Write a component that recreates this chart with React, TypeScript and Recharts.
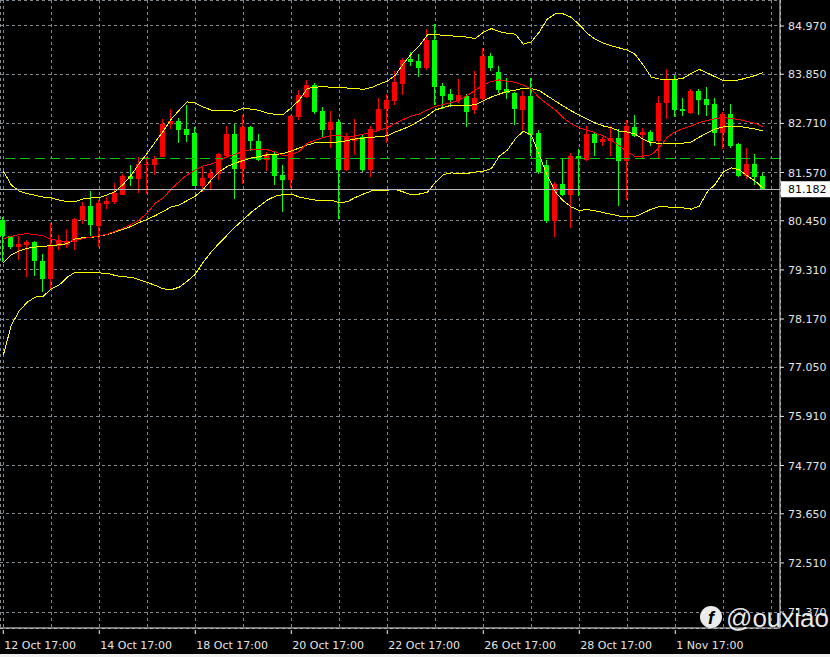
import React from 'react';
import {
  ComposedChart, Bar, Line, XAxis, YAxis, CartesianGrid, ReferenceLine,
} from 'recharts';

// H4 candles, 12 Oct -> 2 Nov. Red = up candle, green = down candle.
const dateLabels = [
  '12 Oct 17:00', '14 Oct 17:00', '18 Oct 17:00', '20 Oct 17:00',
  '22 Oct 17:00', '26 Oct 17:00', '28 Oct 17:00', '1 Nov 17:00',
];

const priceTicks = [84.97, 83.85, 82.71, 81.57, 80.45, 79.31, 78.17, 77.05, 75.91, 74.77, 73.65, 72.51, 71.37];

const opens = [
  80.47, 80.10, 79.85, 79.89, 79.96, 79.52, 79.10, 79.87, 79.89, 79.96, 80.47, 80.80,
  80.34, 80.84, 80.88, 81.05, 81.50, 81.42, 81.75, 81.74, 81.94, 82.69, 82.76, 82.58,
  82.49, 81.26, 81.45, 81.54, 81.96, 82.46, 81.65, 82.62, 82.30, 81.87, 82.00, 81.51,
  81.40, 82.86, 83.31, 83.60, 83.00, 82.56, 82.74, 81.63, 82.30, 82.40, 81.63, 82.56,
  83.04, 83.23, 83.62, 84.20, 84.16, 83.99, 84.65, 83.58, 83.39, 83.25, 83.35, 83.00,
  83.28, 84.28, 83.90, 83.51, 83.41, 83.02, 83.35, 82.48, 81.74, 80.44, 81.30, 81.05,
  81.96, 81.86, 82.46, 82.26, 82.32, 82.38, 81.84, 82.62, 82.44, 82.52, 82.31, 83.18,
  83.72, 83.04, 82.96, 83.47, 83.28, 83.16, 82.48, 82.93, 82.23, 81.49, 81.77, 81.49,
];
const highs = [
  80.54, 80.10, 80.10, 80.00, 79.98, 79.68, 80.40, 80.12, 80.26, 80.52, 80.88, 81.15,
  80.93, 81.01, 81.32, 81.54, 81.74, 81.94, 81.94, 81.95, 82.80, 83.04, 82.83, 83.13,
  82.63, 81.70, 81.64, 82.03, 82.65, 82.70, 82.90, 82.66, 82.46, 82.05, 82.05, 81.74,
  82.90, 83.48, 83.72, 83.65, 83.08, 83.00, 82.82, 82.48, 82.81, 82.46, 82.65, 83.30,
  83.39, 83.93, 84.22, 84.37, 84.32, 84.90, 85.02, 83.65, 83.51, 83.74, 83.39, 83.93,
  84.45, 84.35, 84.04, 83.76, 83.44, 83.46, 83.76, 82.56, 81.86, 81.35, 81.90, 82.02,
  82.11, 82.66, 82.51, 82.39, 82.66, 82.58, 82.79, 82.90, 82.60, 82.56, 83.35, 83.97,
  83.83, 83.31, 83.50, 83.51, 83.56, 83.29, 82.97, 83.16, 82.25, 82.15, 82.00, 81.55,
];
const lows = [
  79.50, 79.79, 79.54, 79.15, 79.17, 78.80, 78.88, 79.77, 79.83, 79.77, 80.37, 80.10,
  79.85, 80.72, 80.84, 81.05, 81.26, 81.10, 81.08, 81.52, 81.91, 82.57, 82.26, 82.28,
  81.25, 81.12, 81.16, 81.41, 81.95, 80.97, 81.30, 82.08, 81.84, 81.61, 81.28, 80.64,
  81.20, 82.79, 83.30, 82.94, 82.39, 82.14, 80.51, 81.60, 81.98, 81.58, 81.47, 82.53,
  82.26, 83.14, 83.37, 84.04, 83.79, 83.95, 83.14, 83.04, 83.10, 83.19, 82.63, 82.93,
  83.25, 83.93, 83.42, 83.28, 82.67, 82.56, 81.94, 81.55, 80.39, 80.08, 81.01, 80.27,
  81.01, 81.84, 81.96, 82.17, 81.96, 80.80, 80.93, 82.39, 81.90, 82.18, 81.90, 82.81,
  82.85, 82.89, 82.92, 82.90, 82.89, 82.18, 82.11, 82.15, 81.45, 81.44, 81.28, 81.15,
];
const closes = [
  80.10, 79.85, 79.91, 79.96, 79.52, 79.10, 79.89, 80.00, 79.99, 80.49, 80.80, 80.35,
  80.87, 80.92, 81.09, 81.50, 81.42, 81.77, 81.77, 81.88, 82.70, 82.76, 82.56, 82.44,
  81.26, 81.44, 81.56, 82.00, 82.46, 81.65, 82.62, 82.30, 81.86, 82.00, 81.50, 81.40,
  82.88, 83.37, 83.60, 82.97, 82.56, 82.74, 81.63, 82.42, 82.38, 81.63, 82.58, 83.04,
  83.25, 83.68, 84.18, 84.13, 83.99, 84.65, 83.56, 83.35, 83.25, 83.36, 82.98, 83.29,
  84.28, 83.99, 83.48, 83.41, 83.04, 83.35, 82.44, 81.57, 80.44, 81.30, 81.05, 81.96,
  81.90, 82.46, 82.26, 82.34, 82.38, 81.84, 82.65, 82.42, 82.52, 82.31, 83.19, 83.72,
  83.02, 83.00, 83.47, 83.25, 83.14, 82.48, 82.93, 82.18, 81.49, 81.77, 81.47, 81.182,
];

// Bollinger bands (yellow) and moving average (red)
const upperBand = [
  81.60, 81.28, 81.14, 81.08, 81.04, 81.00, 80.98, 80.93, 80.89, 80.89, 80.96, 80.98,
  80.99, 81.05, 81.13, 81.30, 81.51, 81.78, 82.02, 82.28, 82.53, 82.81, 83.02, 83.21,
  83.18, 83.09, 83.02, 83.02, 83.02, 82.99, 83.07, 83.04, 83.01, 82.95, 82.92, 82.92,
  83.07, 83.25, 83.52, 83.55, 83.56, 83.55, 83.54, 83.53, 83.52, 83.50, 83.54, 83.62,
  83.69, 83.83, 84.09, 84.32, 84.51, 84.76, 84.78, 84.75, 84.74, 84.73, 84.71, 84.68,
  84.82, 84.91, 84.84, 84.80, 84.78, 84.55, 84.60, 84.83, 85.13, 85.25, 85.25, 85.17,
  85.00, 84.80, 84.66, 84.57, 84.51, 84.46, 84.41, 84.31, 84.06, 83.78, 83.74, 83.72,
  83.73, 83.76, 83.87, 83.96, 83.88, 83.79, 83.70, 83.70, 83.72, 83.77, 83.82, 83.89,
];
const middleBand = [
  79.47, 79.66, 79.75, 79.81, 79.84, 79.85, 79.88, 79.89, 79.92, 80.03, 80.06, 80.06,
  80.10, 80.13, 80.19, 80.25, 80.32, 80.41, 80.48, 80.57, 80.67, 80.77, 80.82, 80.92,
  81.02, 81.18, 81.40, 81.59, 81.71, 81.79, 81.85, 81.91, 81.94, 81.98, 81.99, 82.01,
  82.07, 82.14, 82.21, 82.26, 82.26, 82.26, 82.28, 82.31, 82.35, 82.37, 82.38, 82.41,
  82.42, 82.51, 82.58, 82.66, 82.77, 82.88, 83.02, 83.08, 83.13, 83.13, 83.13, 83.14,
  83.23, 83.32, 83.39, 83.45, 83.48, 83.53, 83.52, 83.47, 83.35, 83.23, 83.11, 83.00,
  82.90, 82.81, 82.72, 82.65, 82.61, 82.53, 82.51, 82.46, 82.34, 82.26, 82.25, 82.25,
  82.25, 82.25, 82.28, 82.39, 82.49, 82.58, 82.63, 82.65, 82.64, 82.61, 82.58, 82.53,
];
const lowerBand = [
  77.33, 78.03, 78.36, 78.56, 78.68, 78.70, 78.87, 78.96, 79.14, 79.26, 79.26, 79.25,
  79.24, 79.23, 79.18, 79.15, 79.14, 79.08, 79.02, 78.95, 78.87, 78.85, 78.91, 79.05,
  79.21, 79.49, 79.73, 79.93, 80.12, 80.31, 80.47, 80.65, 80.79, 80.93, 81.02, 81.06,
  81.07, 81.00, 80.96, 80.93, 80.93, 80.93, 80.87, 80.89, 80.99, 81.07, 81.14, 81.16,
  81.16, 81.18, 81.12, 81.05, 81.07, 81.11, 81.34, 81.52, 81.56, 81.55, 81.55, 81.58,
  81.60, 81.66, 81.95, 82.09, 82.35, 82.53, 82.44, 81.98, 81.49, 81.12, 80.91, 80.77,
  80.69, 80.71, 80.68, 80.64, 80.60, 80.56, 80.55, 80.55, 80.63, 80.72, 80.78, 80.77,
  80.76, 80.75, 80.72, 80.79, 81.12, 81.30, 81.58, 81.68, 81.63, 81.49, 81.37, 81.20,
];
const movingAvg = [
  80.03, 80.09, 80.13, 80.15, 80.13, 80.10, 80.02, 79.98, 79.96, 80.00, 80.04, 80.07,
  80.10, 80.14, 80.21, 80.28, 80.36, 80.47, 80.63, 80.86, 80.98, 81.19, 81.36, 81.52,
  81.63, 81.72, 81.77, 81.84, 81.94, 81.99, 82.07, 82.10, 82.10, 82.10, 82.05, 81.96,
  81.98, 82.06, 82.25, 82.32, 82.38, 82.43, 82.42, 82.40, 82.42, 82.46, 82.50, 82.55,
  82.61, 82.71, 82.80, 82.88, 82.93, 83.02, 83.10, 83.15, 83.19, 83.25, 83.36, 83.48,
  83.61, 83.68, 83.72, 83.69, 83.66, 83.60, 83.51, 83.30, 83.16, 83.02, 82.84, 82.70,
  82.61, 82.55, 82.49, 82.42, 82.32, 82.19, 82.05, 81.94, 81.95, 81.98, 82.15, 82.39,
  82.52, 82.59, 82.65, 82.73, 82.78, 82.82, 82.85, 82.82, 82.80, 82.75, 82.71, 82.63,
];

const bidPrice = 81.182;
const levelPrice = 81.9;

const data = opens.map((open, i) => ({
  i,
  open,
  high: highs[i],
  low: lows[i],
  close: closes[i],
  range: [lows[i], highs[i]],
  upper: upperBand[i],
  middle: middleBand[i],
  lower: lowerBand[i],
  ma: movingAvg[i],
}));

const xTicks = Array.from({ length: 17 }, (_, k) => k * 6);

const UP = '#ff0000';
const DOWN = '#00ff00';
const AXIS = '#e8e8e8';
const FONT = 'DejaVu Sans';

const Candle = (props: any) => {
  const { x, y, width, height, payload } = props;
  if (x == null || !payload) return null;
  const top = Math.min(y, y + height);
  const h = Math.abs(height);
  const { open, close, high, low } = payload;
  const ppu = h / (high - low);
  const cx = Math.floor(x + width / 2);
  const yo = top + (high - open) * ppu;
  const yc = top + (high - close) * ppu;
  const color = close >= open ? UP : DOWN;
  const bodyTop = Math.round(Math.min(yo, yc));
  const bodyH = Math.max(1, Math.round(Math.abs(yo - yc)));
  return (
    <g shapeRendering="crispEdges">
      <rect x={cx} y={Math.round(top)} width={1} height={Math.max(1, Math.round(h))} fill={color} />
      <rect x={cx - 2} y={bodyTop} width={5} height={bodyH} fill={color} />
    </g>
  );
};

const PriceTick = (props: any) => {
  const { x, y, payload } = props;
  return (
    <text x={x} y={y} dy={4} fill="#e4e4e4" fontSize={11} fontFamily={FONT} textAnchor="start">
      {Number(payload.value).toFixed(3)}
    </text>
  );
};

const TimeTick = (props: any) => {
  const { x, y, payload } = props;
  const idx = payload.value;
  const label = idx % 12 === 0 ? dateLabels[idx / 12] : undefined;
  if (!label) return <g />;
  return (
    <g>
      <line x1={x} y1={y} x2={x} y2={y + 4} stroke={AXIS} />
      <text x={x + 1} y={y + 19} fill="#e4e4e4" fontSize={11} fontFamily={FONT} textAnchor="start">
        {label}
      </text>
    </g>
  );
};

const BidLabel = (props: any) => {
  const { viewBox } = props;
  const yy = viewBox.y;
  const right = viewBox.x + viewBox.width;
  return (
    <g>
      <rect x={right + 1} y={yy - 8} width={49} height={16} fill="#ffffff" />
      <text x={right + 8} y={yy + 4} fill="#000" fontSize={11} fontFamily={FONT}>
        {bidPrice.toFixed(3)}
      </text>
    </g>
  );
};

const lineProps = {
  strokeWidth: 1,
  dot: false,
  activeDot: false,
  isAnimationActive: false,
  shapeRendering: 'crispEdges',
} as any;

export default function App() {
  return (
    <div style={{ position: 'absolute', left: 0, top: 0, width: 830, height: 657, background: '#000', overflow: 'hidden' }}>
      <ComposedChart
        width={830}
        height={654}
        data={data}
        margin={{ top: 0, right: 0, bottom: 0, left: 0 }}
      >
        <CartesianGrid stroke="#808890" strokeDasharray="3 3" shapeRendering="crispEdges" />
        <XAxis
          dataKey="i"
          type="number"
          domain={[-0.4125, 97.0875]}
          allowDataOverflow
          ticks={xTicks}
          interval={0}
          height={26}
          tickSize={0}
          tickLine={false}
          axisLine={{ stroke: AXIS }}
          tick={<TimeTick />}
        />
        <YAxis
          orientation="right"
          type="number"
          domain={[71.0, 85.573]}
          allowDataOverflow
          ticks={priceTicks}
          interval={0}
          width={50}
          tickSize={4}
          tickMargin={4}
          tickLine={{ stroke: AXIS }}
          axisLine={{ stroke: AXIS }}
          tick={<PriceTick />}
        />
        <ReferenceLine y={levelPrice} stroke="#00c800" strokeDasharray="10 5" shapeRendering="crispEdges" />
        <Bar dataKey="range" barSize={5} shape={<Candle />} isAnimationActive={false} />
        <Line dataKey="upper" stroke="#ffff00" {...lineProps} />
        <Line dataKey="middle" stroke="#ffff00" {...lineProps} />
        <Line dataKey="lower" stroke="#ffff00" {...lineProps} />
        <Line dataKey="ma" stroke="#ff0000" {...lineProps} />
        <ReferenceLine y={bidPrice} stroke="#b8b8b8" shapeRendering="crispEdges" label={<BidLabel />} />
      </ComposedChart>
      <div style={{ position: 'absolute', left: 0, top: 654, width: 830, height: 3, background: '#f0f0f0' }} />
      <svg width={140} height={40} style={{ position: 'absolute', left: 696, top: 598 }}>
        <circle cx={15} cy={19} r={11} fill="#ffffff" fillOpacity={0.92} />
        <text x={15} y={26} textAnchor="middle" fontSize={18} fontWeight="bold" fontStyle="italic" fontFamily="Liberation Sans" fill="#000">f</text>
        <text x={30} y={29} fontSize={26} fontFamily="Liberation Sans" fill="#ffffff" fillOpacity={0.92}>@ouxiao</text>
      </svg>
    </div>
  );
}
